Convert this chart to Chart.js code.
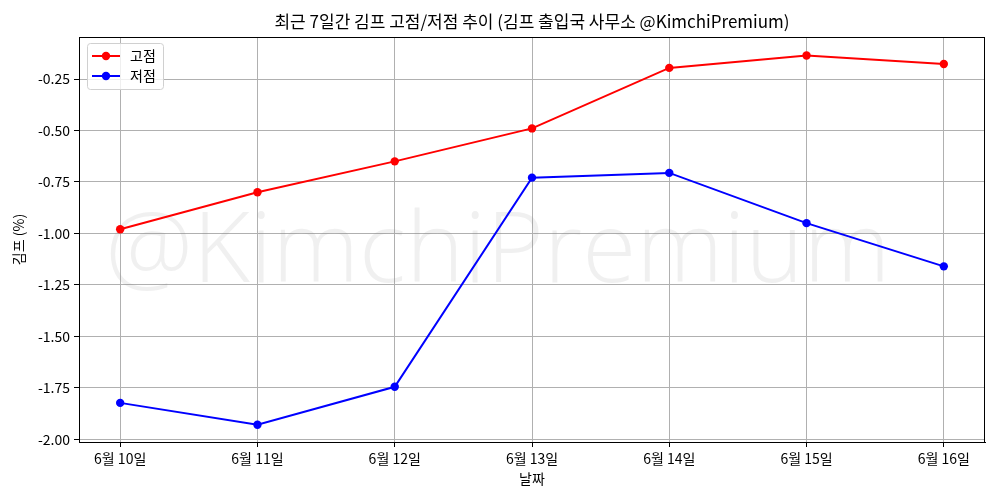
<!DOCTYPE html>
<html>
<head>
<meta charset="utf-8">
<script src="https://cdn.jsdelivr.net/npm/chart.js@4/dist/chart.umd.min.js"></script>
<style>
  html, body { margin: 0; padding: 0; background: #fff; }
  #wrap { width: 1000px; height: 500px; }
</style>
</head>
<body>
<div id="wrap"><canvas id="myChart" width="1000" height="500"></canvas></div>
<script>
// 날짜별 김프 고점/저점 (%)
var dates = ['6월 10일', '6월 11일', '6월 12일', '6월 13일', '6월 14일', '6월 15일', '6월 16일'];
var highs = [-0.98, -0.80, -0.65, -0.49, -0.196, -0.136, -0.177];
var lows = [-1.823, -1.929, -1.745, -0.729, -0.706, -0.950, -1.160];
var yTicks = [-2.00, -1.75, -1.50, -1.25, -1.00, -0.75, -0.50, -0.25];
var seriesNames = ['고점', '저점'];
var seriesColors = ['#ff0000', '#0000ff'];

var FONT = "'Noto Sans CJK KR', 'Noto Sans', sans-serif";

function toPoints(vals) {
    return vals.map(function (v, i) { return { x: i, y: v }; });
}

// 제목, 축 제목, 워터마크, 범례, 테두리
var decor = {
    id: 'decor',
    beforeDatasetsDraw: function (chart) {
        var ctx = chart.ctx, a = chart.chartArea;
        ctx.save();
        ctx.beginPath();
        ctx.rect(a.left, a.top, a.right - a.left, a.bottom - a.top);
        ctx.clip();
        var txt = '@KimchiPremium';
        var wmFont = "'Open Sans', 'Noto Sans', sans-serif";
        ctx.font = '300 100px ' + wmFont;
        var w = ctx.measureText(txt).width;
        var size = 100 * 785 / w;
        ctx.font = '300 ' + size + 'px ' + wmFont;
        ctx.fillStyle = 'rgba(128,128,128,0.12)';
        ctx.textAlign = 'center';
        ctx.textBaseline = 'alphabetic';
        ctx.fillText(txt, 498, 282);
        ctx.restore();
    },
    afterDraw: function (chart) {
        var ctx = chart.ctx, a = chart.chartArea;
        ctx.save();
        // 테두리
        ctx.strokeStyle = '#000';
        ctx.lineWidth = 1;
        ctx.strokeRect(a.left + 0.5, a.top + 0.5, a.right - a.left - 1, a.bottom - a.top);

        ctx.fillStyle = '#000';
        ctx.textAlign = 'center';
        ctx.textBaseline = 'middle';
        ctx.font = '17px ' + FONT;
        ctx.fillText('최근 7일간 김프 고점/저점 추이 (김프 출입국 사무소 @KimchiPremium)', (a.left + a.right) / 2, 22);

        ctx.font = '14px ' + FONT;
        ctx.fillText('날짜', (a.left + a.right) / 2, 479);
        ctx.translate(19, (a.top + a.bottom) / 2);
        ctx.rotate(-Math.PI / 2);
        ctx.fillText('김프 (%)', 0, 0);
        ctx.setTransform(1, 0, 0, 1, 0, 0);

        // 범례
        var bx = a.left + 8, by = a.top + 6, bw = 76, bh = 46;
        ctx.fillStyle = 'rgba(255,255,255,0.8)';
        ctx.strokeStyle = '#d0d0d0';
        ctx.beginPath();
        ctx.roundRect(bx + 0.5, by + 0.5, bw, bh, 3);
        ctx.fill();
        ctx.stroke();
        for (var i = 0; i < seriesNames.length; i++) {
            var yy = by + 13 + i * 20;
            ctx.strokeStyle = seriesColors[i];
            ctx.lineWidth = 2;
            ctx.beginPath();
            ctx.moveTo(bx + 5, yy);
            ctx.lineTo(bx + 33, yy);
            ctx.stroke();
            ctx.fillStyle = seriesColors[i];
            ctx.beginPath();
            ctx.arc(bx + 19, yy, 4.2, 0, Math.PI * 2);
            ctx.fill();
            ctx.fillStyle = '#000';
            ctx.textAlign = 'left';
            ctx.font = '14px ' + FONT;
            ctx.fillText(seriesNames[i], bx + 43, yy);
        }
        ctx.restore();
    }
};

var ctx = document.getElementById('myChart');
window.myChart = new Chart(ctx, {
    type: 'line',
    data: {
        datasets: [{
            label: seriesNames[0],
            data: toPoints(highs),
            borderColor: seriesColors[0],
            backgroundColor: seriesColors[0],
            borderWidth: 2,
            pointRadius: 4.2,
            pointBorderWidth: 0,
            tension: 0
        }, {
            label: seriesNames[1],
            data: toPoints(lows),
            borderColor: seriesColors[1],
            backgroundColor: seriesColors[1],
            borderWidth: 2,
            pointRadius: 4.2,
            pointBorderWidth: 0,
            tension: 0
        }]
    },
    options: {
        responsive: false,
        animation: false,
        layout: { padding: { left: 0, right: 15, top: 37, bottom: 0 } },
        plugins: {
            legend: { display: false },
            title: { display: false },
            tooltip: { enabled: false }
        },
        scales: {
            x: {
                type: 'linear',
                min: -0.3,
                max: 6.3,
                afterBuildTicks: function (scale) {
                    scale.ticks = dates.map(function (d, i) { return { value: i }; });
                },
                afterFit: function (scale) { scale.height = 58; },
                ticks: {
                    color: '#000',
                    font: { family: FONT, size: 14 },
                    padding: 3,
                    maxRotation: 0,
                    callback: function (v) { return dates[v]; }
                },
                grid: { color: '#b0b0b0', tickColor: '#000', tickLength: 5, lineWidth: 1 },
                border: { color: '#000' }
            },
            y: {
                min: -2.013,
                max: -0.046,
                afterBuildTicks: function (scale) {
                    scale.ticks = yTicks.map(function (v) { return { value: v }; });
                },
                afterFit: function (scale) { scale.width = 79; },
                ticks: {
                    color: '#000',
                    font: { family: FONT, size: 14 },
                    padding: 4,
                    callback: function (v) { return v.toFixed(2); }
                },
                grid: { color: '#b0b0b0', tickColor: '#000', tickLength: 5, lineWidth: 1 },
                border: { color: '#000' }
            }
        }
    },
    plugins: [decor]
});
</script>
</body>
</html>
